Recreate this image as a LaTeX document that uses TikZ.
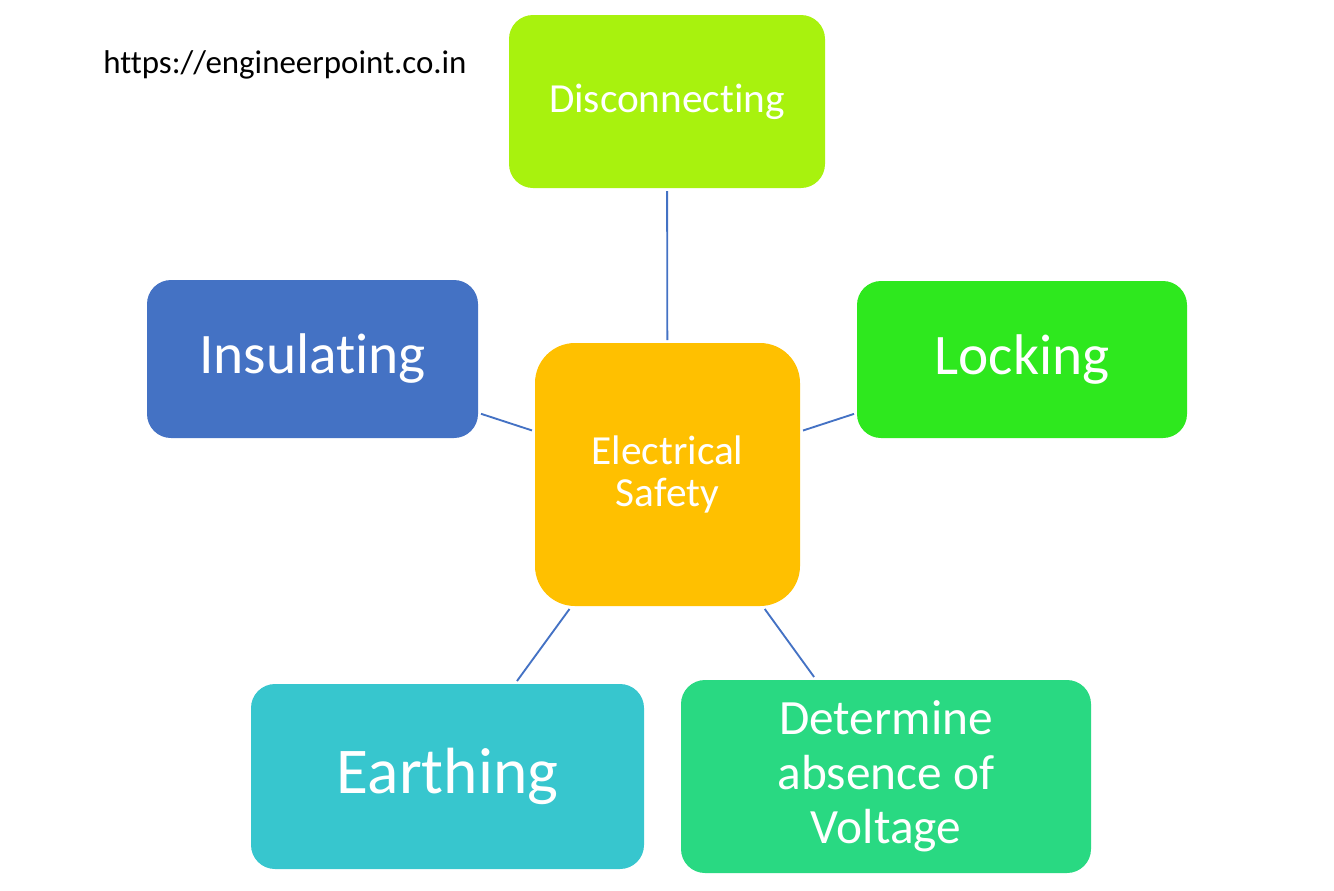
\documentclass[tikz,border=0pt]{standalone}
\usepackage{fontspec}
\setmainfont[Ligatures=NoCommon]{Carlito}
\definecolor{limegr}{RGB}{168,242,14}
\definecolor{lockgr}{RGB}{46,232,30}
\definecolor{insblue}{RGB}{68,114,196}
\definecolor{safeorange}{RGB}{255,192,0}
\definecolor{earthcyan}{RGB}{55,198,206}
\definecolor{voltgr}{RGB}{41,217,130}
\definecolor{linkblue}{RGB}{68,114,196}

\begin{document}
\begin{tikzpicture}[x=0.75pt,y=-0.75pt,
  box/.style={draw=none,rounded corners=18pt,text=white,align=center,outer sep=2.25pt,inner sep=0pt},
  link/.style={draw=linkblue,line width=1.4pt}]
  \useasboundingbox (0,0) rectangle (1334,890);
  \node[anchor=base west,inner sep=0pt,font=\fontsize{24.7}{30}\selectfont] (url) at (103,73) {https://engineerpoint.co.in};
  \node[box,fill=safeorange,rounded corners=30pt,minimum width=198.75pt,minimum height=197.25pt,font=\fontsize{31}{32}\selectfont] (safety) at (667.5,474.5) {Electrical\\Safety};
  \node[box,fill=limegr,minimum width=237pt,minimum height=129.75pt,font=\fontsize{31}{36}\selectfont] (disc) at (667,101.5) {Disconnecting};
  \node[box,fill=insblue,minimum width=248.25pt,minimum height=118.5pt,font=\fontsize{43}{50}\selectfont] (insul) at (312.5,359) {Insulating};
  \node[box,fill=lockgr,minimum width=247.5pt,minimum height=117.75pt,font=\fontsize{43}{50}\selectfont] (lock) at (1022,359.5) {Locking};
  \node[box,fill=earthcyan,minimum width=294.75pt,minimum height=138.75pt,font=\fontsize{49}{56}\selectfont] (earth) at (447.5,776.5) {Earthing};
  \node[box,fill=voltgr,minimum width=307.5pt,minimum height=144.75pt,font=\fontsize{37}{41}\selectfont] (volt) at (886,776.5) {Determine\\absence of\\Voltage};
  % connectors
  \foreach \n in {disc,insul,lock,earth,volt}
    \draw[link] (safety) -- (\n);
\end{tikzpicture}
\end{document}
